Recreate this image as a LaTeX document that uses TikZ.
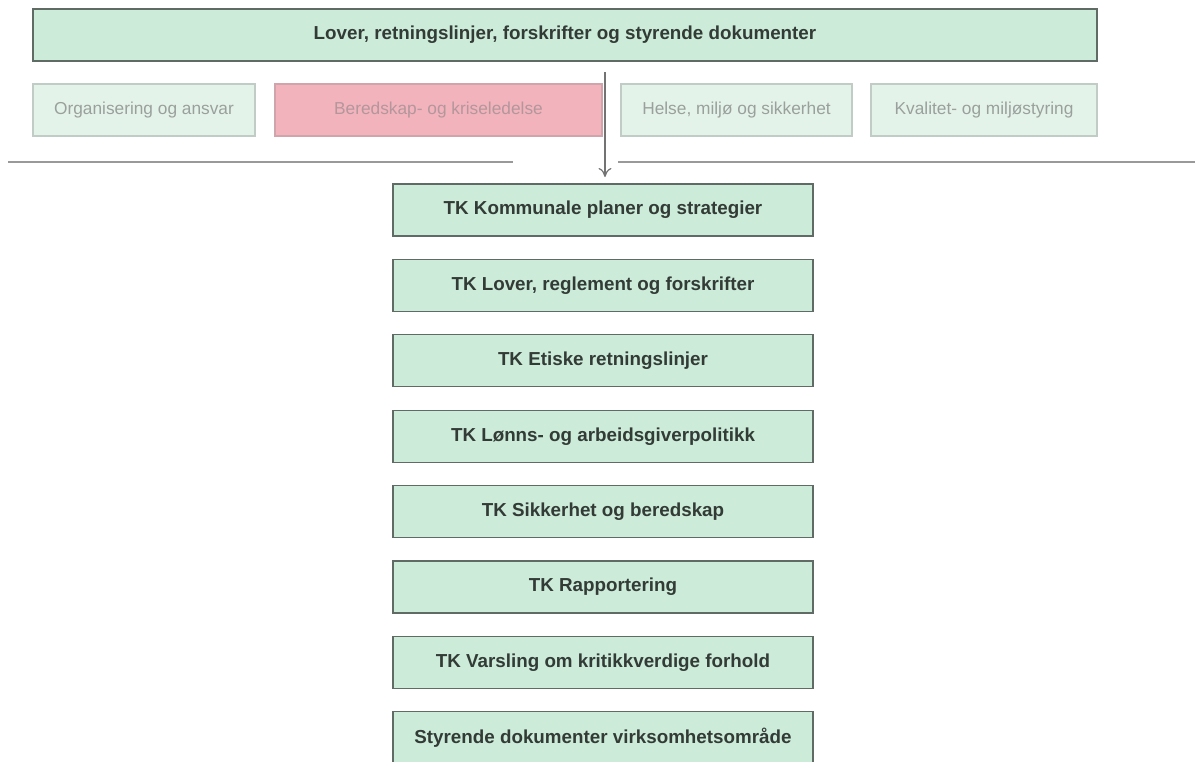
\documentclass[tikz,border=0pt]{standalone}
\usepackage{fontspec}
\setmainfont{Liberation Sans}
\usepackage{tikz}
\usetikzlibrary{arrows.meta}

\definecolor{mint}{HTML}{CCEBD9}
\definecolor{mintlight}{HTML}{E4F3EA}
\definecolor{rose}{HTML}{F2B3BD}
\definecolor{edge}{HTML}{5F6B64}
\definecolor{edgelight}{HTML}{C2CCC6}
\definecolor{txt}{HTML}{333B36}
\definecolor{txtlight}{HTML}{9AA09C}

\begin{document}
\begin{tikzpicture}[x=1pt, y=-1pt,
    box/.style={rectangle, draw=edge, fill=mint, line width=1.3pt, inner sep=0pt, minimum height=52pt, text=txt, font=\bfseries\fontsize{18.8}{21}\selectfont},
    tk/.style={box, minimum width=420pt},
    faded/.style={rectangle, draw=edgelight, fill=mintlight, line width=1.3pt, inner sep=0pt, minimum height=52pt, text=txtlight, font=\fontsize{17.3}{20}\selectfont},
    crisis/.style={faded, draw=rose!70!gray, fill=rose, text=rose!45!gray},
    sep/.style={draw=gray!80, line width=2pt},
    n/.style={-{To[length=9pt,width=13pt]}, draw=gray!90!black, line width=1.2pt}]
            \useasboundingbox (0,0) rectangle (1195,761);
            % nodes
            \node[box, minimum width=1064pt] (laws) at (565,35) {Lover, retningslinjer, forskrifter og styrende dokumenter};

            \node[faded, minimum width=222pt] (org) at (144,110) {Organisering og ansvar};
            \node[crisis, minimum width=327pt] (crisis) at (438.5,110) {Beredskap- og kriseledelse};
            \node[faded, minimum width=231pt] (hms) at (736.5,110) {Helse, miljø og sikkerhet};
            \node[faded, minimum width=226pt] (quality) at (984,110) {Kvalitet- og miljøstyring};

            \coordinate (sepl1) at (8,162);
            \coordinate (sepl2) at (513,162);
            \coordinate (sepr1) at (618,162);
            \coordinate (sepr2) at (1195,162);

            \node[tk] (tk1) at (603,210) {TK Kommunale planer og strategier};
            \node[tk] (tk2) at (603,285.4) {TK Lover, reglement og forskrifter};
            \node[tk] (tk3) at (603,360.8) {TK Etiske retningslinjer};
            \node[tk] (tk4) at (603,436.2) {TK Lønns- og arbeidsgiverpolitikk};
            \node[tk] (tk5) at (603,511.6) {TK Sikkerhet og beredskap};
            \node[tk] (tk6) at (603,587) {TK Rapportering};
            \node[tk] (tk7) at (603,662.4) {TK Varsling om kritikkverdige forhold};
            \node[tk] (tk8) at (603,737.8) {Styrende dokumenter virksomhetsområde};

            \coordinate (arr1) at (605,72);
            \coordinate (arr2) at (605,177);
            % edges
            \draw [sep] (sepl1) -- (sepl2);
            \draw [sep] (sepr1) -- (sepr2);
            \draw [n] (arr1) -- (arr2);
        \end{tikzpicture}
\end{document}
